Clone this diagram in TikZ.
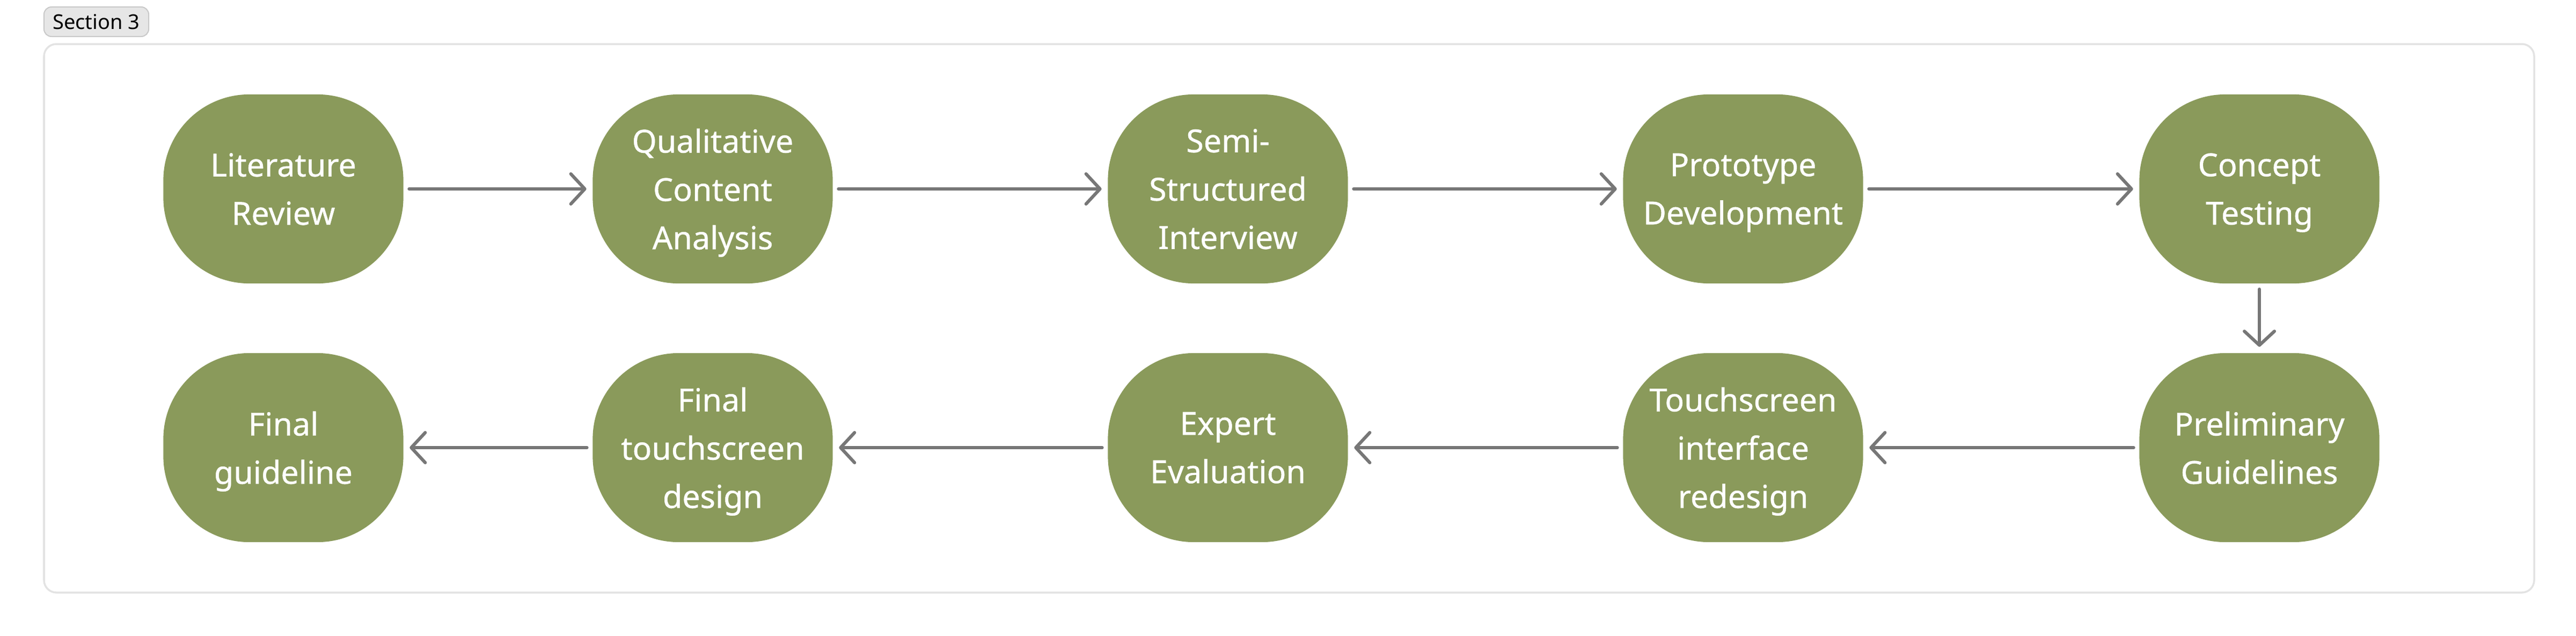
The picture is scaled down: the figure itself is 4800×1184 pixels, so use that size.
\documentclass[tikz,border=0pt]{standalone}
\usepackage{fontspec}
\setmainfont{Noto Sans}
\newfontfamily\nodefont[FakeBold=0.7]{Noto Sans}
\usetikzlibrary{arrows.meta}
\definecolor{olive}{HTML}{8A9A5B}
\definecolor{arrowgray}{HTML}{777777}
\definecolor{framegray}{HTML}{E3E3E3}
\definecolor{tagfill}{HTML}{E6E6E6}
\definecolor{tagborder}{HTML}{C9C9C9}
\begin{document}
\begin{tikzpicture}[x=0.01cm,y=-0.01cm,
  stepnode/.style={fill=olive, draw=none, rounded corners=1.6cm,
    minimum width=4.47cm, minimum height=3.52cm, inner sep=0pt,
    align=center, text=white, text depth=0pt,
    font=\nodefont\fontsize{16.8pt}{25.6pt}\selectfont},
  arr/.style={draw=arrowgray, line width=0.06cm, line cap=round,
    shorten >=0.11cm, shorten <=0.1cm,
    -{Straight Barb[length=0.26cm, width=0.56cm, round]}},
  tagnode/.style={fill=tagfill, draw=tagborder, line width=0.02cm,
    rounded corners=0.14cm, minimum width=1.95cm, minimum height=0.55cm,
    inner sep=0pt, font=\fontsize{10.8pt}{13pt}\selectfont, text=black}]
\useasboundingbox (0,0) rectangle (4800,1184);
\fill[white] (0,0) rectangle (4800,1184);
% frame
\draw[framegray, line width=0.035cm, rounded corners=0.23cm] (82,82) rectangle (4722,1104);
\node[tagnode] (sec) at (179.5,40.5) {Section 3};
% top row
\node[stepnode] (lit) at (528,352) {Literature\\Review};
\node[stepnode] (qca) at (1328,352) {Qualitative\\Content\\Analysis};
\node[stepnode] (ssi) at (2288,352) {Semi-\\Structured\\Interview};
\node[stepnode] (pd)  at (3248,352) {Prototype\\Development};
\node[stepnode] (ct)  at (4210,352) {Concept\\Testing};
% bottom row
\node[stepnode] (pg)  at (4210,834) {Preliminary\\Guidelines};
\node[stepnode] (tir) at (3248,834) {Touchscreen\\interface\\redesign};
\node[stepnode] (ee)  at (2288,834) {Expert\\Evaluation};
\node[stepnode] (ftd) at (1328,834) {Final\\touchscreen\\design};
\node[stepnode] (fg)  at (528,834) {Final\\guideline};
% connectors
\draw[arr] (lit) -- (qca);
\draw[arr] (qca) -- (ssi);
\draw[arr] (ssi) -- (pd);
\draw[arr] (pd) -- (ct);
\draw[arr] (ct) -- (pg);
\draw[arr] (pg) -- (tir);
\draw[arr] (tir) -- (ee);
\draw[arr] (ee) -- (ftd);
\draw[arr] (ftd) -- (fg);
\end{tikzpicture}
\end{document}
